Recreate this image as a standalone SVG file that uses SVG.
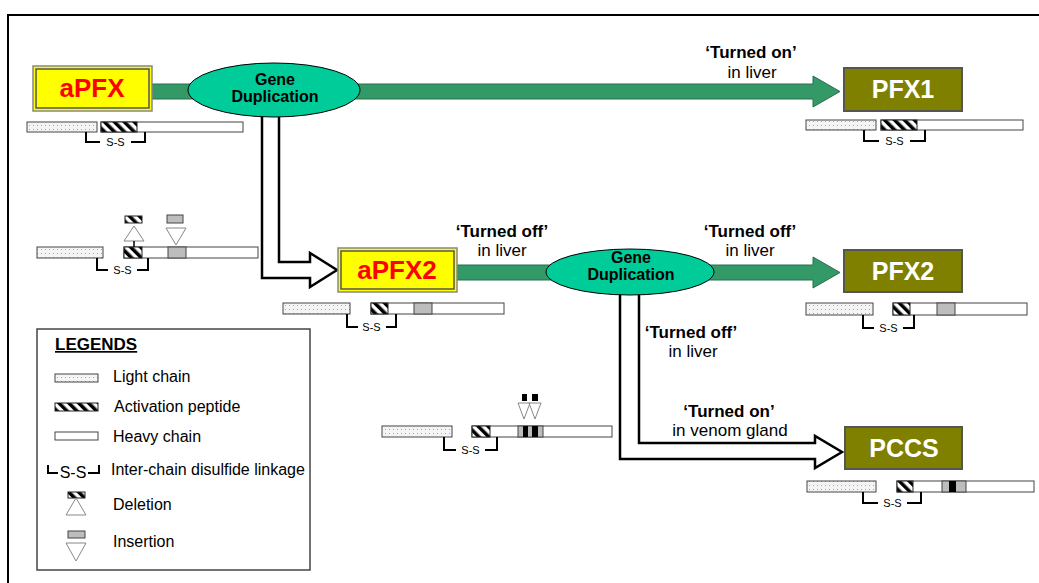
<svg xmlns="http://www.w3.org/2000/svg" width="1039" height="583" viewBox="0 0 1039 583">
<defs>
<pattern id="dots" width="4" height="4" patternUnits="userSpaceOnUse">
<rect width="4" height="4" fill="#f4f4f4"/>
<rect x="1" y="1" width="1" height="1" fill="#a8a8a8"/>
</pattern>
<pattern id="hatch" width="7" height="7" patternUnits="userSpaceOnUse" patternTransform="rotate(-45)">
<rect width="7" height="7" fill="#fff"/>
<rect width="3.5" height="7" fill="#000"/>
</pattern>
<style>
.lc{fill:url(#dots);stroke:#444;stroke-width:1}
.ap{fill:url(#hatch);stroke:#222;stroke-width:1}
.hc{fill:#fff;stroke:#444;stroke-width:1}
.ins{fill:#bdbdbd;stroke:#444;stroke-width:1}
.br{fill:none;stroke:#000;stroke-width:2}
.ss{font-family:"Liberation Sans",Arial,sans-serif;font-size:11px;text-anchor:middle;fill:#000}
.tri{fill:#fff;stroke:#888;stroke-width:1}
.lbl{font-family:"Liberation Sans",Arial,sans-serif;font-size:17px;text-anchor:middle;fill:#000}
.lblb{font-family:"Liberation Sans",Arial,sans-serif;font-size:17px;font-weight:bold;text-anchor:middle;fill:#000}
.gd{font-family:"Liberation Sans",Arial,sans-serif;font-size:16px;font-weight:bold;text-anchor:middle;fill:#000}
.leg{font-family:"Liberation Sans",Arial,sans-serif;font-size:16px;fill:#000}
.green{fill:#339966;stroke:#2b6e4c;stroke-width:1}
.hollow{fill:#fff;stroke:#000;stroke-width:2.5;stroke-linejoin:miter}
.ell{fill:#00cc99;stroke:#000;stroke-width:1}
.olive{fill:#808000;stroke:#555;stroke-width:2}
.otxt{font-family:"Liberation Sans",Arial,sans-serif;font-size:25px;font-weight:bold;fill:#fff;text-anchor:middle}
.rtxt{font-family:"Liberation Sans",Arial,sans-serif;font-size:26px;font-weight:bold;fill:#ff0000;text-anchor:middle}
</style>
</defs>
<rect width="1039" height="583" fill="#fff"/>
<path d="M8,590 V15 H1045" fill="none" stroke="#000" stroke-width="2"/>

<g id="connectors">
<polygon class="green" points="152,84 813,84 813,76 840,91.5 813,107 813,99 152,99"/>
<polygon class="green" points="457,265 813,265 813,257 840,272.5 813,288 813,280 457,280"/>
<path class="hollow" d="M279,112 V262 H310 V253 L337,270 L310,287 V278 H262 V112"/>
<path class="hollow" d="M639,288 V443 H815 V436 L842,452 L815,468 V459 H620 V288"/>
</g>

<g id="gene-dup-1">
<ellipse class="ell" cx="274" cy="90" rx="86" ry="27"/>
<text class="gd" x="275" y="85">Gene</text>
<text class="gd" x="275" y="102">Duplication</text>
</g>
<g id="gene-dup-2">
<ellipse class="ell" cx="630" cy="272" rx="84" ry="23"/>
<text class="gd" x="631" y="263">Gene</text>
<text class="gd" x="631" y="280">Duplication</text>
</g>

<g id="aPFX">
<rect x="33" y="66" width="119" height="45" fill="#ffff00" stroke="#888" stroke-width="1.5"/>
<rect x="36" y="69" width="113" height="39" fill="none" stroke="#555" stroke-width="1.5"/>
<text class="rtxt" x="92" y="97">aPFX</text>
</g>
<g id="aPFX2">
<rect x="338" y="248" width="119" height="44" fill="#ffff00" stroke="#888" stroke-width="1.5"/>
<rect x="341" y="251" width="113" height="38" fill="none" stroke="#555" stroke-width="1.5"/>
<text class="rtxt" x="397" y="279">aPFX2</text>
</g>
<g id="PFX1">
<rect class="olive" x="844" y="68" width="118" height="43"/>
<text class="otxt" x="903" y="98">PFX1</text>
</g>
<g id="PFX2">
<rect class="olive" x="844" y="250" width="118" height="42"/>
<text class="otxt" x="903" y="280">PFX2</text>
</g>
<g id="PCCS">
<rect class="olive" x="845" y="427" width="117" height="42"/>
<text class="otxt" x="904" y="457">PCCS</text>
</g>

<g id="labels">
<text class="lblb" x="751" y="58">‘Turned on’</text>
<text class="lbl" x="752" y="78">in liver</text>
<text class="lblb" x="502" y="237">‘Turned off’</text>
<text class="lbl" x="502" y="256">in liver</text>
<text class="lblb" x="750" y="237">‘Turned off’</text>
<text class="lbl" x="750" y="256">in liver</text>
<text class="lblb" x="691" y="338">‘Turned off’</text>
<text class="lbl" x="693" y="357">in liver</text>
<text class="lblb" x="729" y="417">‘Turned on’</text>
<text class="lbl" x="730" y="436">in venom gland</text>
</g>

<g id="chain-aPFX">
<rect class="lc" x="27" y="122" width="70" height="10"/>
<rect class="hc" x="101" y="122" width="142" height="10"/>
<rect class="ap" x="101" y="122" width="36" height="10"/>
<path class="br" d="M86,132 V142 H100 M131,142 H145 V132"/>
<text class="ss" x="115.5" y="146">S-S</text>
</g>
<g id="chain-PFX1">
<rect class="lc" x="806" y="120" width="70" height="10"/>
<rect class="hc" x="881" y="120" width="142" height="10"/>
<rect class="ap" x="881" y="120" width="36" height="10"/>
<path class="br" d="M864,130 V141 H879 M910,141 H925 V130"/>
<text class="ss" x="894.5" y="145">S-S</text>
</g>
<g id="chain-intermediate">
<rect class="lc" x="37" y="247" width="66" height="11"/>
<rect class="hc" x="124" y="247" width="134" height="11"/>
<rect class="ap" x="124" y="247" width="18" height="11"/>
<rect class="ins" x="168" y="247" width="18" height="11"/>
<path class="br" d="M97,258 V270 H108 M137,270 H148 V258"/>
<text class="ss" x="122.5" y="274">S-S</text>
<rect class="ap" x="125" y="216" width="17" height="7"/>
<polygon class="tri" points="134,226 144,241 124,241"/>
<line x1="134" y1="241" x2="134" y2="247" stroke="#000" stroke-width="1.5"/>
<rect class="ins" x="167" y="215" width="16" height="8" stroke="#999"/>
<polygon class="tri" points="166,228 186,228 176,245"/>
</g>
<g id="chain-aPFX2">
<rect class="lc" x="283" y="303" width="67" height="11"/>
<rect class="hc" x="371" y="303" width="133" height="11"/>
<rect class="ap" x="371" y="303" width="17" height="11"/>
<rect class="ins" x="414" y="303" width="18" height="11"/>
<path class="br" d="M347,314 V327 H358 M386,327 H396 V314"/>
<text class="ss" x="371.5" y="331">S-S</text>
</g>
<g id="chain-PFX2">
<rect class="lc" x="806" y="303" width="67" height="12"/>
<rect class="hc" x="893" y="303" width="134" height="12"/>
<rect class="ap" x="893" y="303" width="17" height="12"/>
<rect class="ins" x="937" y="303" width="18" height="12"/>
<path class="br" d="M863,315 V328 H874 M903,328 H914 V315"/>
<text class="ss" x="888.5" y="332">S-S</text>
</g>
<g id="chain-precursor">
<rect class="lc" x="382" y="426" width="70" height="11"/>
<rect class="hc" x="472" y="426" width="140" height="11"/>
<rect class="ap" x="472" y="426" width="18" height="11"/>
<rect class="ins" x="518" y="426" width="25" height="11"/>
<rect x="523" y="426" width="5" height="11" fill="#000"/>
<rect x="532" y="426" width="6" height="11" fill="#000"/>
<path class="br" d="M444,437 V450 H456 M485,450 H497 V437"/>
<text class="ss" x="470.5" y="454">S-S</text>
<rect x="522" y="394" width="5" height="7" fill="#000"/>
<rect x="532" y="394" width="6" height="7" fill="#000"/>
<polygon class="tri" points="518,403 530,403 524,419"/>
<polygon class="tri" fill-opacity="0" points="529,403 541,403 535,419"/>
</g>
<g id="chain-PCCS">
<rect class="lc" x="807" y="481" width="69" height="11"/>
<rect class="hc" x="897" y="481" width="137" height="11"/>
<rect class="ap" x="897" y="481" width="16" height="11"/>
<rect class="ins" x="942" y="481" width="24" height="11"/>
<rect x="949" y="481" width="7" height="11" fill="#000"/>
<path class="br" d="M863,492 V503 H878 M907,503 H921 V492"/>
<text class="ss" x="892.5" y="507">S-S</text>
</g>

<g id="legend">
<rect x="37" y="329" width="273" height="241" fill="#fff" stroke="#444" stroke-width="1.5"/>
<text x="55" y="350" font-family="Liberation Sans, Arial, sans-serif" font-size="17" font-weight="bold" text-decoration="underline">LEGENDS</text>
<rect class="lc" x="55" y="374" width="43" height="8"/>
<text class="leg" x="113" y="382">Light chain</text>
<rect class="ap" x="55" y="403" width="43" height="8"/>
<text class="leg" x="114" y="412">Activation peptide</text>
<rect class="hc" x="55" y="432" width="43" height="8"/>
<text class="leg" x="113" y="442">Heavy chain</text>
<path class="br" d="M48,465 V473 H58 M88,473 H99 V465" stroke-width="1.5"/>
<text x="73" y="478" font-family="Liberation Sans, Arial, sans-serif" font-size="16" text-anchor="middle">S-S</text>
<text class="leg" x="111" y="475">Inter-chain disulfide linkage</text>
<rect class="ap" x="68" y="492" width="17" height="6"/>
<polygon class="tri" points="76,498 86,515 66,515"/>
<text class="leg" x="113" y="510">Deletion</text>
<rect class="ins" x="68" y="531" width="17" height="7" stroke="#999"/>
<polygon class="tri" points="66,543 86,543 76,561"/>
<text class="leg" x="113" y="547">Insertion</text>
</g>
</svg>
